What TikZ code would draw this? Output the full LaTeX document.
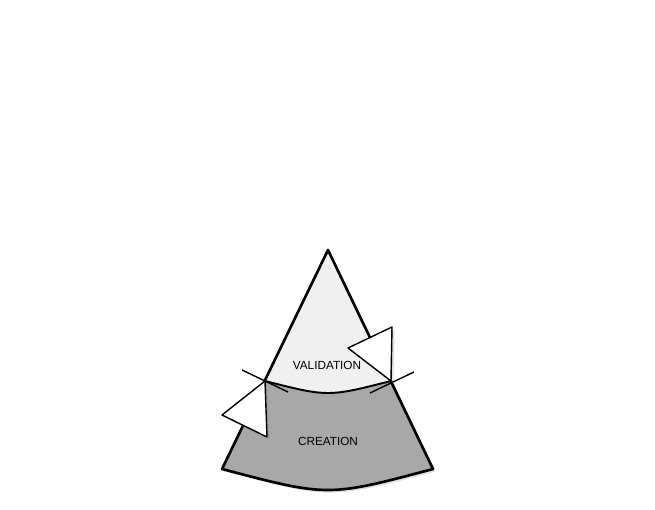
\documentclass[tikz,border=0pt]{standalone}
\usepackage{fontspec}
\setsansfont{Liberation Sans}
\usepackage{tikz}
\usepackage{tkz-euclide}
\usetikzlibrary{shadows}
\definecolor{upper}{rgb}{0.94,0.94,0.94}
\definecolor{lower}{rgb}{0.66,0.66,0.66}

\begin{document}
\begin{tikzpicture}[%
  zone/.style={draw=none},
  rim/.style={line width=1.5pt, line join=round},
  seam/.style={line width=1.1pt},
  tick/.style={line width=0.8pt},
  flag/.style={draw, fill=white, line width=0.8pt, line join=round,
    drop shadow={opacity=0.25, shadow xshift=0.05, shadow yshift=-0.05}},
  label/.style={font=\sffamily\fontsize{6.7}{8}\selectfont},
]

  \tkzDefPoint(0,0){min}
  \tkzDefPoint(13.1,10.18){max}
  \useasboundingbox (min) rectangle (max);

  \tkzDefPoint(6.56,5.18){top}
  \tkzDefPoint(4.44,0.80){bl}
  \tkzDefPoint(8.66,0.80){br}
  \tkzDefPoint(6.56,0.24){bc}
  \tkzDefPoint(5.30,2.56){ml}
  \tkzDefPoint(7.82,2.56){mr}
  \tkzDefPoint(6.56,2.24){mc}

  % Regions
  \fill[lower, drop shadow={opacity=0.25, shadow xshift=0.05, shadow yshift=-0.05}]
    (top) -- (bl) .. controls (bc) .. (br) -- cycle;
  \fill[upper] (top) -- (ml) .. controls (mc) .. (mr) -- cycle;

  % Outline
  \draw[rim] (top) -- (bl) .. controls (bc) .. (br) -- cycle;
  \draw[seam] (ml) .. controls (mc) .. (mr);

  % Ticks
  \tkzDefPoint(4.84,2.78){t0}
  \tkzDefPoint(5.76,2.34){t1}
  \tkzDefPoint(7.40,2.32){t2}
  \tkzDefPoint(8.28,2.74){t3}
  \draw[tick] (t0) -- (t1);
  \draw[tick] (t2) -- (t3);

  % Flags
  \tkzDefPoint(5.34,1.44){f0}
  \tkzDefPoint(4.44,1.88){f1}
  \tkzDefPoint(7.84,3.64){f2}
  \tkzDefPoint(6.96,3.22){f3}
  \draw[flag] (ml) -- (f0) -- (f1) -- cycle;
  \draw[flag] (mr) -- (f2) -- (f3) -- cycle;

  \node[label] (validation) at (6.54,2.88) {VALIDATION};
  \node[label] (creation) at (6.56,1.36) {CREATION};

\end{tikzpicture}
\end{document}
